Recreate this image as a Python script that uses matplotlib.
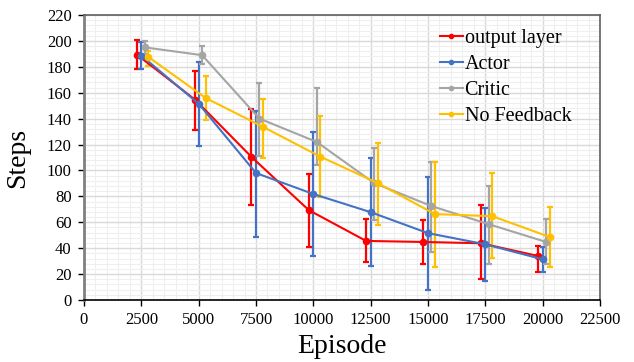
import numpy as np
import matplotlib.pyplot as plt
from matplotlib.ticker import MultipleLocator
from matplotlib.lines import Line2D

plt.rcParams['font.family'] = ['Liberation Serif', 'DejaVu Serif']

# data (mean, lower and upper error bar ends)
labels = ['output layer', 'Actor', 'Critic', 'No Feedback']
colors = ['#FF0000', '#4472C4', '#A5A5A5', '#FFC000']

red_x = [2300, 4850, 7300, 9800, 12300, 14800, 17300, 19800]
red_y = [189.5, 154.5, 110.5, 69.4, 45.6, 44.8, 43.8, 34.0]
red_lo = [178, 131, 73, 40.7, 29, 27.5, 15.9, 21.3]
red_hi = [200.6, 177, 147.7, 97.3, 62.4, 61.6, 73.3, 41.5]

blue_x = [2500, 5000, 7500, 10000, 12500, 15000, 17500, 20000]
blue_y = [188.7, 151.5, 98, 81.8, 67.8, 51.6, 43, 31.4]
blue_lo = [178, 119, 49, 33.7, 26, 8, 14.6, 21.3]
blue_hi = [199, 183.6, 146, 129.3, 109.7, 95, 71, 40.7]

gray_x = [2650, 5150, 7650, 10150, 12650, 15150, 17650, 20150]
gray_y = [195, 189, 140, 122, 90.3, 72.5, 58.5, 44.8]
gray_lo = [190, 182, 111, 104, 61.6, 37, 27.5, 27.5]
gray_hi = [200, 196, 167.8, 164, 117.4, 106.8, 88.2, 62.4]

yel_x = [2800, 5300, 7800, 10300, 12800, 15300, 17800, 20300]
yel_y = [187.7, 156, 133.7, 110.7, 90.3, 66.3, 64.7, 48.7]
yel_lo = [181, 139, 110, 79.5, 57.8, 25.4, 32.4, 25.4]
yel_hi = [192, 172.7, 155.4, 142, 121.3, 106.8, 98, 72]

series = [(red_x, red_y, red_lo, red_hi),
          (blue_x, blue_y, blue_lo, blue_hi),
          (gray_x, gray_y, gray_lo, gray_hi),
          (yel_x, yel_y, yel_lo, yel_hi)]

fig = plt.figure(figsize=(6.34, 3.62), dpi=100)
ax = fig.add_axes([84/634, 1 - 300/362, 516/634, 285/362])

for (x, y, lo, hi), c in zip(series, colors):
    y = np.array(y)
    yerr = [y - np.array(lo), np.array(hi) - y]
    ax.errorbar(x, y, yerr=yerr, color=c, lw=1.5, marker='o', ms=4.5,
                capsize=2.5, elinewidth=1.6, capthick=1.6, zorder=3)

ax.set_xlim(0, 22500)
ax.set_ylim(0, 220)
ax.xaxis.set_major_locator(MultipleLocator(2500))
ax.xaxis.set_minor_locator(MultipleLocator(500))
ax.yaxis.set_major_locator(MultipleLocator(20))
ax.yaxis.set_minor_locator(MultipleLocator(4))
ax.grid(which='major', color='#d9d9d9', lw=1.0, zorder=0)
ax.grid(which='minor', color='#efefef', lw=0.8, zorder=0)
ax.set_axisbelow(True)

ax.tick_params(axis='both', which='major', labelsize=12, length=4, width=1, direction='out')
ax.tick_params(axis='both', which='minor', length=0)
ax.tick_params(axis='y', pad=5)
ax.tick_params(axis='x', pad=5)

ax.spines['left'].set_color('#808080')
ax.spines['left'].set_linewidth(2)
ax.spines['bottom'].set_color('black')
ax.spines['bottom'].set_linewidth(1.2)
ax.spines['right'].set_color('#606060')
ax.spines['right'].set_linewidth(1.2)
ax.spines['top'].set_color('#606060')
ax.spines['top'].set_linewidth(1.2)

ax.set_xlabel('Episode', fontsize=20, labelpad=4)
ax.set_ylabel('Steps', fontsize=20, labelpad=12)

handles = [Line2D([], [], color=c, lw=1.5, marker='o', ms=3) for c in colors]
ax.legend(handles, labels, loc='upper left', bbox_to_anchor=(0.675, 0.98),
          frameon=False, fontsize=14.5, handlelength=1.1, handletextpad=0.1,
          labelspacing=0.35, borderaxespad=0)

fig.savefig('out.png', dpi=100)
